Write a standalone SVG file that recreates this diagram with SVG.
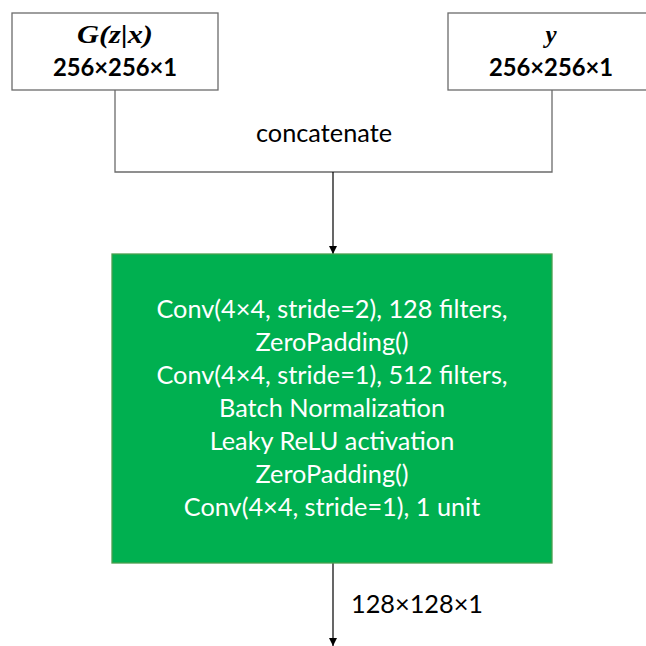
<svg xmlns="http://www.w3.org/2000/svg" width="646" height="646" viewBox="0 0 646 646">
<style>
.box{fill:#ffffff;stroke:#6b6b6b;stroke-width:1.3}
.green{fill:#00b050;stroke:#4aa04f;stroke-width:1.3}
.t{font-family:Lato,"Liberation Sans",Arial,sans-serif;font-size:25.3px;text-anchor:middle}
.b{font-weight:bold;fill:#000;font-size:23.8px}
.m{font-family:"Liberation Serif","DejaVu Serif",serif;font-style:italic;font-weight:bold;font-size:25px;text-anchor:middle;fill:#000}
.w{fill:#ffffff}
.line{fill:none;stroke:#6b6b6b;stroke-width:1.3}
.arr{fill:none;stroke:#000;stroke-width:1.2;marker-end:url(#ah)}
</style>
<defs>
<marker id="ah" viewBox="0 0 10 10" refX="10" refY="5" markerWidth="8" markerHeight="8" markerUnits="userSpaceOnUse" orient="auto">
<path d="M0,0 L10,5 L0,10 z" fill="#000"/>
</marker>
</defs>
<g id="connectors">
<path class="line" d="M115,90 V172 H552 V90"/>
<line class="arr" x1="333" y1="172" x2="333" y2="254"/>
<line class="arr" x1="333" y1="563" x2="333" y2="646"/>
<text class="t" x="417" y="613" fill="#000">128×128×1</text>
<text class="t" x="324" y="142" fill="#000">concatenate</text>
</g>
<g id="node-gzx">
<rect class="box" x="12" y="13" width="206" height="77"/>
<text class="m" x="115" y="43" textLength="76" lengthAdjust="spacingAndGlyphs">G(z|x)</text>
<text class="t b" x="115" y="76">256×256×1</text>
</g>
<g id="node-y">
<rect class="box" x="448" y="13" width="202" height="77"/>
<text class="m" x="551" y="43">y</text>
<text class="t b" x="551" y="76">256×256×1</text>
</g>
<g id="node-conv">
<rect class="green" x="112" y="254" width="440" height="309"/>
<text class="t w" x="332" y="318">Conv(4×4, stride=2), 128 filters,</text>
<text class="t w" x="332" y="351">ZeroPadding()</text>
<text class="t w" x="332" y="384">Conv(4×4, stride=1), 512 filters,</text>
<text class="t w" x="332" y="417">Batch Normalization</text>
<text class="t w" x="332" y="450">Leaky ReLU activation</text>
<text class="t w" x="332" y="483">ZeroPadding()</text>
<text class="t w" x="332" y="516">Conv(4×4, stride=1), 1 unit</text>
</g>
</svg>
